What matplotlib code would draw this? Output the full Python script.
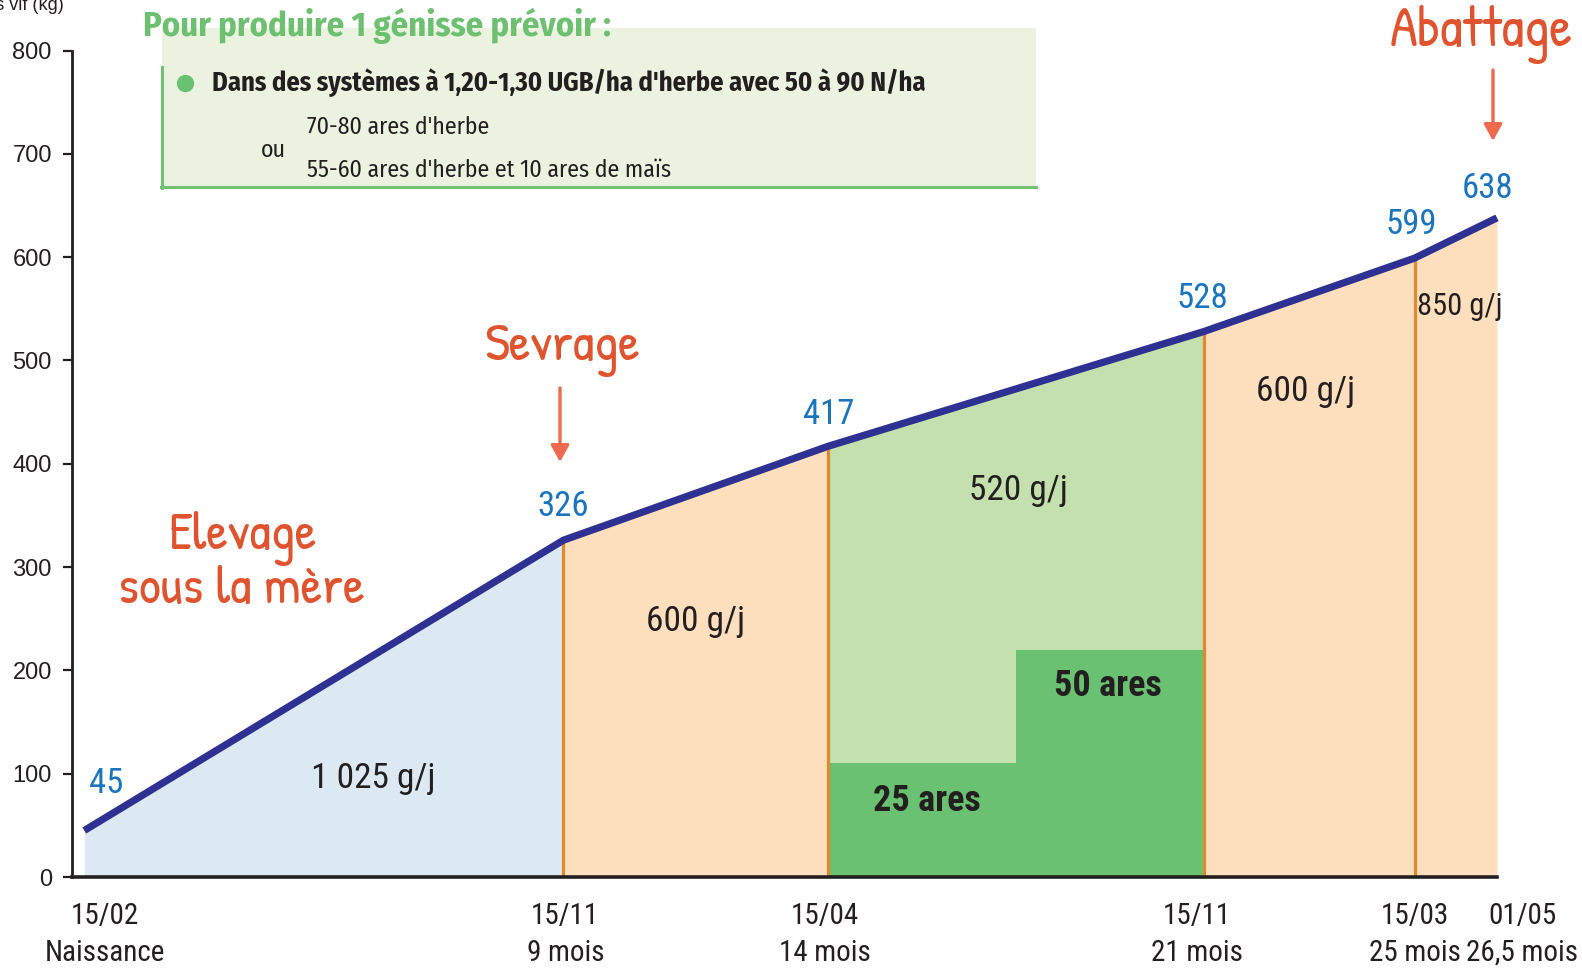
import matplotlib
matplotlib.use("Agg")
import matplotlib.pyplot as plt
from matplotlib import font_manager as fm
from matplotlib.lines import Line2D
from matplotlib.patches import Rectangle, FancyArrowPatch

# ---------------- data ----------------
dates = ["15/02", "15/11", "15/04", "15/11", "15/03", "01/05"]
ages = ["Naissance", "9 mois", "14 mois", "21 mois", "25 mois", "26,5 mois"]
age_days = [0, 273, 424, 638, 758, 805]
weights = [45, 326, 417, 528, 599, 638]
gain_labels = ["1 025 g/j", "600 g/j", "520 g/j", "600 g/j", "850 g/j"]
pasture_labels = ["25 ares", "50 ares"]
pasture_start = [424, 531]
pasture_end = [531, 638]
pasture_height = [110, 220]
y_ticks = [0, 100, 200, 300, 400, 500, 600, 700, 800]
title_text = "Pour produire 1 génisse prévoir :"
box_line1 = "Dans des systèmes à 1,20-1,30 UGB/ha d'herbe avec 50 à 90 N/ha"
box_alt1 = "70-80 ares d'herbe"
box_alt2 = "55-60 ares d'herbe et 10 ares de maïs"
box_or = "ou"

# ---------------- styles ----------------
names = {f.name for f in fm.fontManager.ttflist}


def pick(*cands):
    for c in cands:
        if c in names:
            return c
    return "DejaVu Sans"


NARROW = pick("Roboto Condensed", "Archivo Narrow", "PT Sans Narrow", "Liberation Sans")
HUMAN = pick("Fira Sans Condensed", "Open Sans Condensed", "Open Sans")
HAND = pick("Patrick Hand", "Kalam", "Gochi Hand", "Architects Daughter", "Lato")
REG = pick("Liberation Sans", "DejaVu Sans")

segment_colors = ["#dde9f2", "#fddfbd", "#c3e0ae", "#fddfbd", "#fddfbd"]
orange = "#e08a2f"
navy = "#2e3192"
blue_txt = "#1b75bc"
red_txt = "#e0532f"
arrow_col = "#ef6a4c"
dark = "#231f20"
green_dark = "#69c171"
green_title = "#6cc070"

W, H = 1582, 971
fig = plt.figure(figsize=(W / 100, H / 100), dpi=100)
ax = fig.add_axes([72 / W, 1 - 877 / H, (1497 - 72) / W, (877 - 50.5) / H])
ax.set_facecolor("none")
ax.set_xlim(-7, 805)
ax.set_ylim(0, 800)

# area fills per phase
for i in range(len(age_days) - 1):
    ax.fill_between(age_days[i:i + 2], weights[i:i + 2], 0,
                    color=segment_colors[i], lw=0, zorder=1)

# pasture blocks
for s, e, h in zip(pasture_start, pasture_end, pasture_height):
    ax.bar(s, h, width=e - s, align="edge", color=green_dark, lw=0, zorder=2)

# vertical orange separators
ax.vlines(age_days[1:-1], 0, weights[1:-1], color=orange, lw=2.3, zorder=3)

# growth line
ax.plot(age_days, weights, color=navy, lw=5.2, solid_capstyle="butt",
        solid_joinstyle="miter", zorder=5, clip_on=False)

# value labels
val_offsets = [(16, 34), (0, 24), (0, 23), (-1, 24), (-2, 24), (-7, 21)]
for d, w, off in zip(age_days, weights, val_offsets):
    ax.annotate(str(w), (d, w), xytext=off, textcoords="offset points",
                ha="center", va="center", color=blue_txt, fontsize=25,
                family=NARROW, zorder=6, annotation_clip=False)

# gain labels
gain_pos = [(164.6, 94.9), (348.6, 246.9), (532.1, 373.7), (695.8, 469.5), (783.7, 551.8)]
gain_sizes = [25.5, 25.5, 25.5, 25.5, 22]
for lab, (x, y), fs in zip(gain_labels, gain_pos, gain_sizes):
    ax.text(x, y, lab, ha="center", va="center", fontsize=fs, family=NARROW,
            color=dark, zorder=6)

# pasture labels
pasture_pos = [(480.2, 73.6), (583.4, 184.9)]
for lab, (x, y) in zip(pasture_labels, pasture_pos):
    ax.text(x, y, lab, ha="center", va="center", fontsize=26, family=NARROW,
            fontweight="bold", color=dark, zorder=6)

# axes styling
for sp in ["top", "right"]:
    ax.spines[sp].set_visible(False)
ax.spines["left"].set_linewidth(2.0)
ax.spines["bottom"].set_linewidth(2.6)
ax.spines["left"].set_color(dark)
ax.spines["bottom"].set_color(dark)
ax.spines["bottom"].set_zorder(7)
ax.set_yticks(y_ticks)
ax.set_yticklabels([str(t) for t in y_ticks])
ax.tick_params(axis="y", direction="out", length=6.5, width=1.6, pad=8,
               labelsize=17, colors=dark)
for t in ax.get_yticklabels():
    t.set_family(REG)
ax.set_xticks([])

# x labels (two lines)
x_offsets = [15, 1.4, -2.6, -4.8, 0, 18]
for d, dt, ag, dx in zip(age_days, dates, ages, x_offsets):
    ax.annotate(dt, (d, 0), xycoords=("data", "axes fraction"), xytext=(dx, -28),
                textcoords="offset points", ha="center", va="center",
                fontsize=21, family=NARROW, color=dark, annotation_clip=False)
    ax.annotate(ag, (d, 0), xycoords=("data", "axes fraction"), xytext=(dx, -54.7),
                textcoords="offset points", ha="center", va="center",
                fontsize=21, family=NARROW, color=dark, annotation_clip=False)

# y axis title (partly cut off at the figure edge in the original)
fig.text(64 / W, 1 - 5 / H, "Poids vif (kg)", ha="right", va="center",
         fontsize=13, family=REG, color=dark)


def fx(px):
    return px / W


def fy(py):
    return 1 - py / H


# info box
fig.add_artist(Rectangle((fx(162), fy(188)), (1036 - 162) / W, (188 - 28) / H,
                         transform=fig.transFigure, facecolor="#ebf2e0",
                         edgecolor="none", zorder=0.5))
fig.add_artist(Line2D([fx(162), fx(162)], [fy(67), fy(188)], color="#72c275",
                      lw=2.2, transform=fig.transFigure, zorder=1))
fig.add_artist(Line2D([fx(161), fx(1036)], [fy(187), fy(187)], color="#72c275",
                      lw=2.2, transform=fig.transFigure, zorder=1))
fig.text(fx(143), fy(26), title_text, ha="left", va="center", fontsize=24.9,
         family=HUMAN, fontweight="bold", color=green_title)
fig.add_artist(Line2D([fx(185)], [fy(83)], marker="o", ms=11.5, color=green_dark,
                      transform=fig.transFigure, zorder=2))
fig.text(fx(212), fy(83), box_line1, ha="left", va="center", fontsize=19,
         family=HUMAN, fontweight="bold", color=dark)
fig.text(fx(307), fy(127), box_alt1, ha="left", va="center", fontsize=17.2,
         family=HUMAN, color=dark)
fig.text(fx(307), fy(170), box_alt2, ha="left", va="center", fontsize=17.2,
         family=HUMAN, color=dark)
fig.text(fx(261), fy(150), box_or, ha="left", va="center", fontsize=17.2,
         family=HUMAN, color=dark)

# handwritten-style annotations
fig.text(fx(562), fy(349), "Sevrage", ha="center", va="center", fontsize=39,
         family=HAND, color=red_txt)
fig.text(fx(1481), fy(34), "Abattage", ha="center", va="center", fontsize=41,
         family=HAND, color=red_txt)
fig.text(fx(243), fy(539), "Elevage", ha="center", va="center", fontsize=39,
         family=HAND, color=red_txt)
fig.text(fx(241), fy(593), "sous la mère", ha="center", va="center", fontsize=39,
         family=HAND, color=red_txt)

for x, y0, y1 in [(560, 388, 462), (1493, 70, 141)]:
    fig.add_artist(FancyArrowPatch(
        (fx(x), fy(y0)), (fx(x), fy(y1)), transform=fig.transFigure,
        arrowstyle="-|>,head_length=1.0,head_width=0.55", mutation_scale=10,
        color=arrow_col, lw=2.4, shrinkA=0, shrinkB=0, zorder=3))

fig.savefig("out.png", dpi=100)
